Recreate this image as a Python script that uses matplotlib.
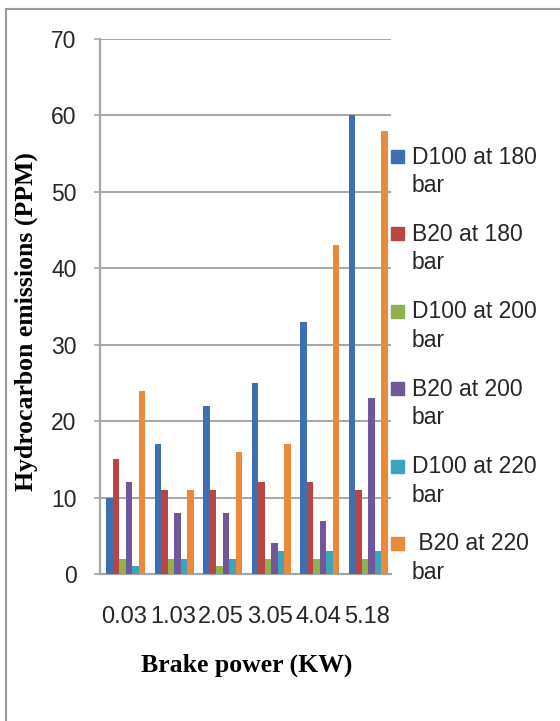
import matplotlib.pyplot as plt
import matplotlib.patches as patches
from matplotlib.lines import Line2D
import numpy as np

# brake power categories and HC emissions (ppm)
power_labels = ['0.03', '1.03', '2.05', '3.05', '4.04', '5.18']
d100_180 = [10, 17, 22, 25, 33, 60]
b20_180 = [15, 11, 11, 12, 12, 11]
d100_200 = [2, 2, 1, 2, 2, 2]
b20_200 = [12, 8, 8, 4, 7, 23]
d100_220 = [1, 2, 2, 3, 3, 3]
b20_220 = [24, 11, 16, 17, 43, 58]

series_names = ['D100 at 180\nbar', 'B20 at 180\nbar', 'D100 at 200\nbar',
                'B20 at 200\nbar', 'D100 at 220\nbar', ' B20 at 220\nbar']
series_values = [d100_180, b20_180, d100_200, b20_200, d100_220, b20_220]
colors = ['#3f6fb3', '#b94442', '#8fb14e', '#71569a', '#3ea3bf', '#ea8a3a']

W, H = 560, 721
fig = plt.figure(figsize=(W / 100, H / 100), dpi=100)
ax = fig.add_axes([100 / W, 1 - 574 / H, 291 / W, 535 / H])

x = np.arange(len(power_labels))
bw = 0.135
for i, (vals, col) in enumerate(zip(series_values, colors)):
    ax.bar(x + (i - 2.5) * bw + 0.03, vals, width=bw, color=col, zorder=3)

ax.set_xlim(-0.5, len(power_labels) - 0.5)
ax.set_ylim(0, 70)
ax.set_yticks(range(0, 71, 10))
ax.set_xticks(x)
ax.set_xticklabels(power_labels)

grid_col = '#a6a6a6'
ax.yaxis.grid(True, color=grid_col, linewidth=1.4, zorder=0)
for s in ['top', 'right']:
    ax.spines[s].set_visible(False)
for s in ['left', 'bottom']:
    ax.spines[s].set_color(grid_col)
    ax.spines[s].set_linewidth(1.6)

ax.tick_params(axis='y', length=4, width=1.2, color=grid_col, pad=13,
               labelsize=16.5, labelcolor='#262626')
ax.tick_params(axis='x', length=0, pad=23, labelsize=17, labelcolor='#262626')
for lab in ax.get_xticklabels() + ax.get_yticklabels():
    lab.set_family('Liberation Sans')

fig.text(247 / W, 1 - 665 / H, 'Brake power (KW)', ha='center', va='center',
         family='Liberation Serif', fontweight='bold', fontsize=18.5)
fig.text(26 / W, 1 - 322 / H, 'Hydrocarbon emissions (PPM)', ha='center',
         va='center', rotation=90, family='Liberation Serif',
         fontweight='bold', fontsize=18.5)

# legend drawn by hand: square marker plus two-line label
sq = 13
for i, (name, col) in enumerate(zip(series_names, colors)):
    yc = 156.5 + i * 77.4
    fig.patches.append(patches.Rectangle((391 / W, 1 - (yc + sq / 2) / H),
                                         sq / W, sq / H, color=col,
                                         transform=fig.transFigure))
    fig.text(412 / W, 1 - (yc - 11) / H, name, ha='left', va='top',
             family='Liberation Sans', fontsize=16.5, color='#262626',
             linespacing=1.3)

# outer frame (top and left edges)
fig.add_artist(Line2D([6 / W, 1], [1 - 9 / H, 1 - 9 / H], color='#9a9a9a',
                      linewidth=1.5, transform=fig.transFigure))
fig.add_artist(Line2D([6 / W, 6 / W], [0, 1 - 9 / H], color='#9a9a9a',
                      linewidth=1.5, transform=fig.transFigure))

fig.savefig('out.png', dpi=100)
